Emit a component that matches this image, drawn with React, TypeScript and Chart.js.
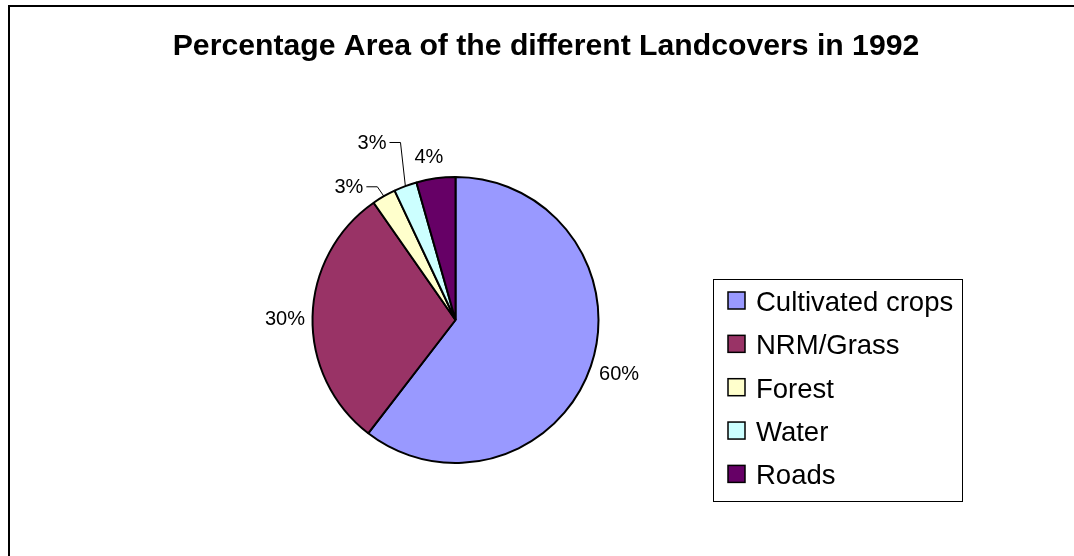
import React, { useEffect, useRef } from "react";
import { Chart, registerables } from "chart.js";

Chart.register(...registerables);

const chartTitle = "Percentage Area of the different Landcovers in 1992";
const categories = ["Cultivated crops", "NRM/Grass", "Forest", "Water", "Roads"];
const values = [60.45, 29.85, 2.7, 2.6, 4.4];
const colors = ["#9999FF", "#993366", "#FFFFCC", "#CCFFFF", "#660066"];

// label placement (distance beyond the rim, angular nudge in degrees, leader line)
const labelGap = [29, 27.5, 28, 53.6, 23];
const labelShiftDeg = [-0.8, -0.65, -8.5, -4.6, -1.3];
const labelLeader = [false, false, true, true, false];

const FONT = '"Liberation Sans", Arial, Helvetica, sans-serif';

const W = 1074;
const H = 556;

const overlayPlugin = {
  id: "overlay",
  beforeDraw(chart: any) {
    const ctx = chart.ctx as CanvasRenderingContext2D;
    ctx.save();
    ctx.fillStyle = "#ffffff";
    ctx.fillRect(0, 0, chart.width, chart.height);
    ctx.strokeStyle = "#000000";
    ctx.lineWidth = 2;
    ctx.strokeRect(9, 6, chart.width + 50, chart.height + 50);
    ctx.restore();
  },
  afterDraw(chart: any) {
    const ctx = chart.ctx as CanvasRenderingContext2D;
    ctx.save();
    // title
    ctx.fillStyle = "#000000";
    ctx.font = `bold 30.2px ${FONT}`;
    ctx.textAlign = "center";
    ctx.textBaseline = "alphabetic";
    ctx.fillText(chartTitle, 546, 55);

    // data labels
    const meta = chart.getDatasetMeta(0);
    const data: number[] = chart.data.datasets[0].data;
    const total = data.reduce((a, b) => a + b, 0);
    const labelSize = 20;
    meta.data.forEach((arc: any, i: number) => {
      const p = arc.getProps(["x", "y", "startAngle", "endAngle", "outerRadius"], true);
      const mid = (p.startAngle + p.endAngle) / 2;
      const a = mid + (labelShiftDeg[i] * Math.PI) / 180;
      const d = p.outerRadius + labelGap[i];
      const lx = p.x + Math.cos(a) * d;
      const ly = p.y + Math.sin(a) * d;
      const text = Math.round((data[i] / total) * 100) + "%";
      ctx.font = `${labelSize}px ${FONT}`;
      ctx.fillStyle = "#000000";
      ctx.textAlign = "center";
      ctx.fillText(text, lx, ly + 0.358 * labelSize);
      if (labelLeader[i]) {
        const w = ctx.measureText(text).width;
        const x0 = lx + w / 2 + 3;
        const yy = ly + 0.5;
        const ex = p.x + Math.cos(mid) * p.outerRadius;
        const ey = p.y + Math.sin(mid) * p.outerRadius;
        ctx.beginPath();
        ctx.moveTo(x0, yy);
        ctx.lineTo(x0 + 11, yy);
        ctx.lineTo(ex, ey);
        ctx.lineWidth = 1;
        ctx.strokeStyle = "#000000";
        ctx.stroke();
      }
    });

    // legend
    const labels: string[] = chart.data.labels;
    const bg: string[] = chart.data.datasets[0].backgroundColor;
    ctx.strokeStyle = "#000000";
    ctx.lineWidth = 1;
    ctx.strokeRect(713.5, 279.5, 249, 222);
    const legendSize = 27.5;
    ctx.font = `${legendSize}px ${FONT}`;
    ctx.textAlign = "left";
    labels.forEach((lab, i) => {
      const base = 311 + i * 43.35;
      ctx.fillStyle = bg[i];
      ctx.fillRect(728, base - 19, 17, 17);
      ctx.lineWidth = 1.5;
      ctx.strokeStyle = "#000000";
      ctx.strokeRect(728, base - 19, 17, 17);
      ctx.fillStyle = "#000000";
      ctx.fillText(lab, 756, base);
    });
    ctx.restore();
  },
};

export default function App() {
  const ref = useRef<HTMLCanvasElement | null>(null);
  useEffect(() => {
    if (!ref.current) return;
    const chart = new Chart(ref.current, {
      type: "pie",
      data: {
        labels: categories,
        datasets: [
          {
            data: values,
            backgroundColor: colors,
            borderColor: "#000000",
            borderWidth: 2,
            hoverOffset: 0,
            radius: 143,
          } as any,
        ],
      },
      options: {
        responsive: false,
        maintainAspectRatio: false,
        animation: false,
        events: [],
        layout: { padding: { left: 300, right: W - 611, top: 170, bottom: H - 470 } },
        plugins: {
          legend: { display: false },
          title: { display: false },
          tooltip: { enabled: false },
        },
      } as any,
      plugins: [overlayPlugin],
    });
    return () => chart.destroy();
  }, []);
  return (
    <div style={{ position: "fixed", left: 0, top: 0, width: W, height: H, overflow: "hidden", background: "#fff" }}>
      <canvas ref={ref} width={W} height={H} style={{ display: "block", width: W, height: H }} />
    </div>
  );
}
